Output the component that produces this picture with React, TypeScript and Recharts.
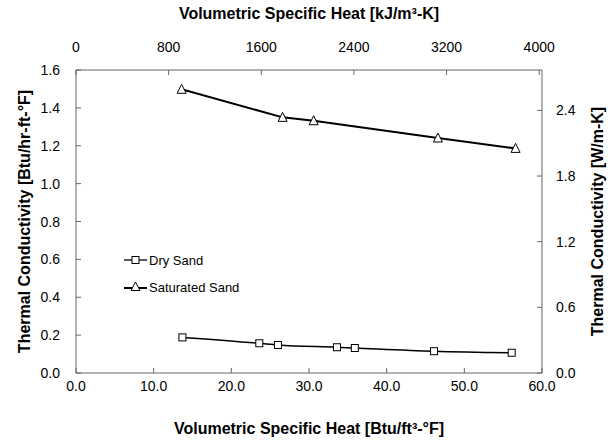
import React from 'react';
import { ComposedChart, Line, XAxis, YAxis, Legend } from 'recharts';

const dryX = [13.7, 23.6, 26.0, 33.6, 35.9, 46.1, 56.1];
const dryK = [0.188, 0.157, 0.148, 0.136, 0.132, 0.115, 0.107];
const satX = [13.6, 26.6, 30.6, 46.6, 56.6];
const satK = [1.498, 1.35, 1.332, 1.241, 1.186];

const bottomTicks = [0, 10, 20, 30, 40, 50, 60];
const topTicks = [0, 800, 1600, 2400, 3200, 4000];
const leftTicks = [0, 0.2, 0.4, 0.6, 0.8, 1.0, 1.2, 1.4, 1.6];
const rightTicks = [0, 0.6, 1.2, 1.8, 2.4];

const BTU_TO_KJ = 67.07;
const BTUK_TO_W = 1.7307;

const dryData = dryX.map((x, i) => ({ x, dry: dryK[i] }));
const satData = satX.map((x, i) => ({ x, kx: x * BTU_TO_KJ, sat: satK[i], satW: satK[i] * BTUK_TO_W }));

const FONT = '"Liberation Sans", Arial, sans-serif';
const AXIS = '#666';
const TL = 5;
const MARGIN = 6;

const BottomTick = (p: any) => {
  const ay = p.y - MARGIN;
  return (
    <g>
      <line x1={p.x} x2={p.x} y1={ay} y2={ay - TL} stroke={AXIS} />
      <text x={p.x} y={p.y + 12} textAnchor="middle" fontSize={14} fill="#000" fontFamily={FONT}>
        {Number(p.payload.value).toFixed(1)}
      </text>
    </g>
  );
};
const TopTick = (p: any) => {
  const ay = p.y + MARGIN;
  return (
    <g>
      <line x1={p.x} x2={p.x} y1={ay} y2={ay + TL} stroke={AXIS} />
      <text x={p.x} y={p.y - 12} textAnchor="middle" fontSize={14} fill="#000" fontFamily={FONT}>
        {p.payload.value}
      </text>
    </g>
  );
};
const LeftTick = (p: any) => {
  const ax = p.x + MARGIN;
  return (
    <g>
      <line x1={ax} x2={ax + TL} y1={p.y} y2={p.y} stroke={AXIS} />
      <text x={p.x - 10} y={p.y + 5} textAnchor="end" fontSize={14} fill="#000" fontFamily={FONT}>
        {Number(p.payload.value).toFixed(1)}
      </text>
    </g>
  );
};
const RightTick = (p: any) => {
  const ax = p.x - MARGIN;
  return (
    <g>
      <line x1={ax} x2={ax - TL} y1={p.y} y2={p.y} stroke={AXIS} />
      <text x={p.x + 8} y={p.y + 5} textAnchor="start" fontSize={14} fill="#000" fontFamily={FONT}>
        {Number(p.payload.value).toFixed(1)}
      </text>
    </g>
  );
};

const SquareDot = (p: any) => {
  if (p.cx == null || p.cy == null) return null;
  const s = 7;
  return <rect key={p.index} x={p.cx - s / 2} y={p.cy - s / 2} width={s} height={s} fill="#fff" stroke="#000" strokeWidth={1} />;
};
const TriDot = (p: any) => {
  if (p.cx == null || p.cy == null) return null;
  const h = 8;
  const w = 9;
  return (
    <polygon
      key={p.index}
      points={`${p.cx},${p.cy - h / 2 - 1} ${p.cx - w / 2},${p.cy + h / 2} ${p.cx + w / 2},${p.cy + h / 2}`}
      fill="#fff"
      stroke="#000"
      strokeWidth={1}
    />
  );
};

const LegendContent = () => (
  <div style={{ fontFamily: FONT, fontSize: 13, color: '#000', whiteSpace: 'nowrap', width: 160 }}>
    <div style={{ display: 'flex', alignItems: 'center', height: 20 }}>
      <svg width={25} height={12} style={{ flexShrink: 0 }}>
        <line x1={0} x2={23} y1={6} y2={6} stroke="#000" strokeWidth={1.3} />
        <rect x={8} y={2.5} width={7} height={7} fill="#fff" stroke="#000" />
      </svg>
      <span>Dry Sand</span>
    </div>
    <div style={{ display: 'flex', alignItems: 'center', height: 20, marginTop: 7 }}>
      <svg width={25} height={12} style={{ flexShrink: 0 }}>
        <line x1={0} x2={23} y1={7} y2={7} stroke="#000" strokeWidth={2} />
        <polygon points="11.5,1 7,9.5 16,9.5" fill="#fff" stroke="#000" />
      </svg>
      <span>Saturated Sand</span>
    </div>
  </div>
);

const labelStyle = { fontFamily: FONT, fontSize: 16, fontWeight: 'bold', fill: '#000' };

export default function App() {
  return (
    <div style={{ position: 'absolute', left: 0, top: 0, width: 610, height: 442, background: '#fff' }}>
      <ComposedChart width={610} height={442} margin={{ top: 0, right: 0, bottom: 0, left: 0 }}>
        <XAxis
          xAxisId="bottom"
          type="number"
          dataKey="x"
          orientation="bottom"
          domain={[0, 60]}
          ticks={bottomTicks}
          height={69}
          tickSize={0}
          tickMargin={MARGIN}
          tick={<BottomTick />}
          axisLine={{ stroke: AXIS }}
          tickLine={false}
          allowDuplicatedCategory={false}
          label={{ value: 'Volumetric Specific Heat [Btu/ft³-°F]', position: 'insideBottom', offset: 8, style: labelStyle }}
        />
        <XAxis
          xAxisId="top"
          type="number"
          dataKey="kx"
          orientation="top"
          domain={[0, 60 * BTU_TO_KJ]}
          ticks={topTicks}
          height={70}
          tickSize={0}
          tickMargin={MARGIN}
          tick={<TopTick />}
          axisLine={{ stroke: AXIS }}
          tickLine={false}
          allowDuplicatedCategory={false}
          label={{ value: 'Volumetric Specific Heat [kJ/m³-K]', position: 'insideTop', offset: 8, style: labelStyle }}
        />
        <YAxis
          yAxisId="left"
          type="number"
          orientation="left"
          domain={[0, 1.6]}
          ticks={leftTicks}
          width={76}
          tickSize={0}
          tickMargin={MARGIN}
          tick={<LeftTick />}
          axisLine={{ stroke: AXIS }}
          tickLine={false}
          label={{ value: 'Thermal Conductivity [Btu/hr-ft-°F]', angle: -90, position: 'insideLeft', offset: 24, style: { ...labelStyle, textAnchor: 'middle' } }}
        />
        <YAxis
          yAxisId="right"
          type="number"
          orientation="right"
          domain={[0, 1.6 * BTUK_TO_W]}
          ticks={rightTicks}
          width={68}
          tickSize={0}
          tickMargin={MARGIN}
          tick={<RightTick />}
          axisLine={{ stroke: AXIS }}
          tickLine={false}
          label={{ value: 'Thermal Conductivity [W/m-K]', angle: -90, position: 'insideRight', offset: 13, style: { ...labelStyle, textAnchor: 'middle' } }}
        />
        <Legend
          content={<LegendContent />}
          layout="vertical"
          wrapperStyle={{ position: 'absolute', left: 124, top: 250, width: 0, height: 0, overflow: 'visible' }}
        />
        <Line
          xAxisId="top"
          yAxisId="left"
          data={satData}
          dataKey="sat"
          stroke="none"
          dot={false}
          activeDot={false}
          legendType="none"
          isAnimationActive={false}
        />
        <Line
          xAxisId="bottom"
          yAxisId="right"
          data={satData}
          dataKey="satW"
          stroke="none"
          dot={false}
          activeDot={false}
          legendType="none"
          isAnimationActive={false}
        />
        <Line
          xAxisId="bottom"
          yAxisId="left"
          data={dryData}
          dataKey="dry"
          name="Dry Sand"
          type="monotone"
          stroke="#000"
          strokeWidth={1.5}
          dot={<SquareDot />}
          isAnimationActive={false}
        />
        <Line
          xAxisId="bottom"
          yAxisId="left"
          data={satData}
          dataKey="sat"
          name="Saturated Sand"
          type="linear"
          stroke="#000"
          strokeWidth={2}
          dot={<TriDot />}
          isAnimationActive={false}
        />
      </ComposedChart>
    </div>
  );
}
